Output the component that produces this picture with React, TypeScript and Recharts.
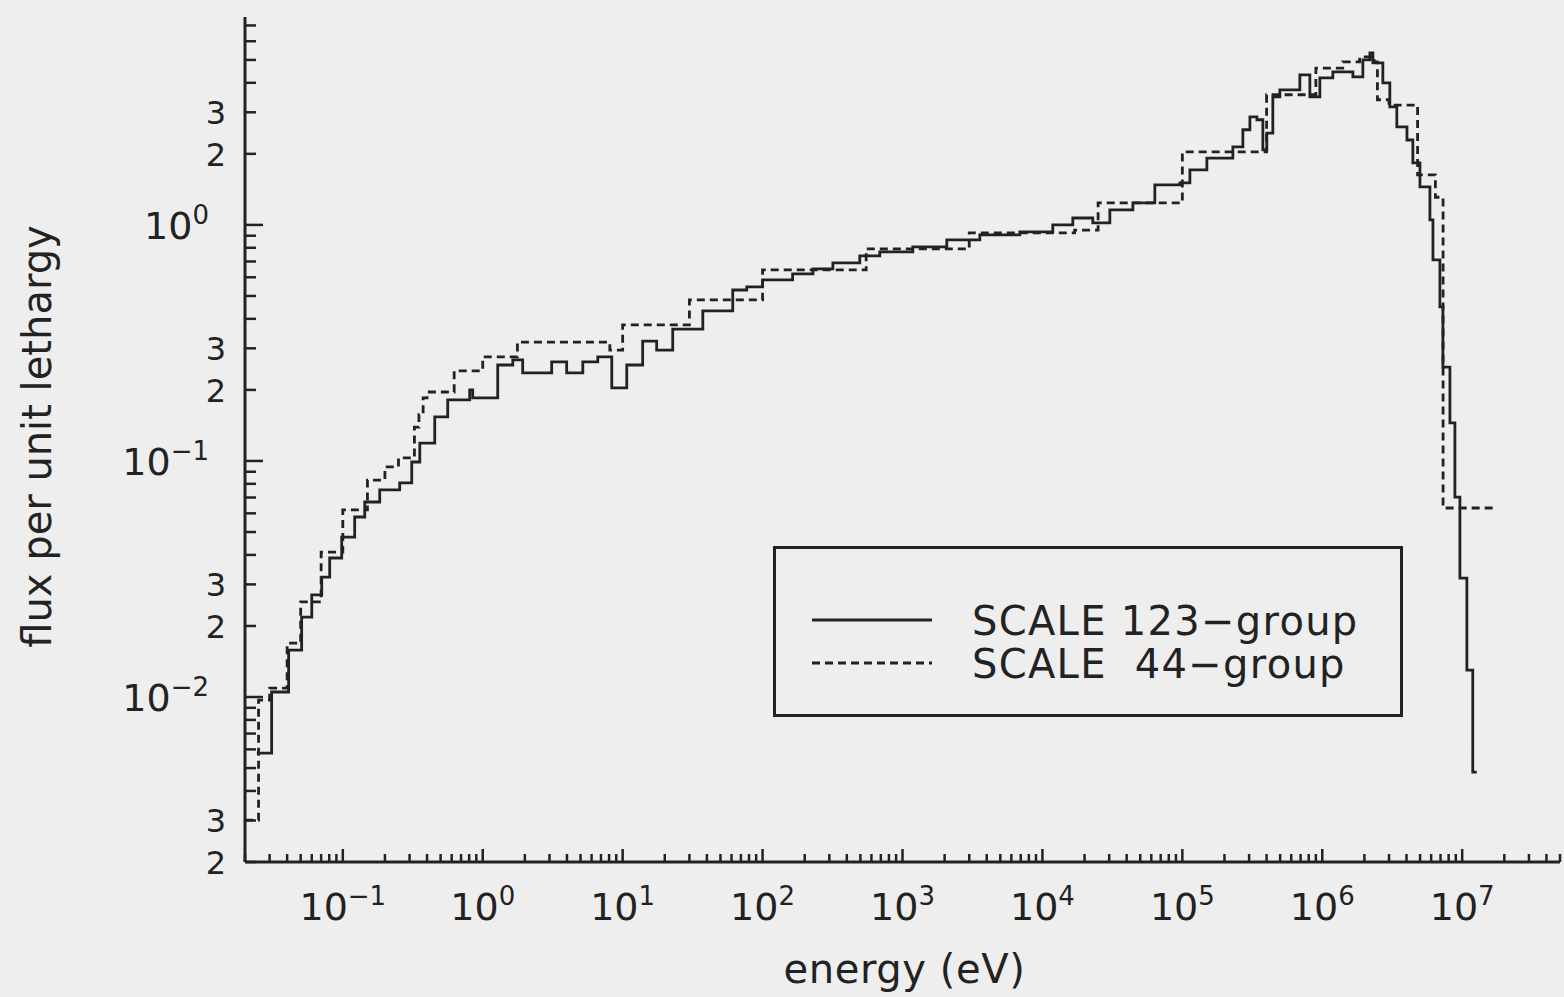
import { LineChart, Line, XAxis, YAxis, Legend } from "recharts";

const INK = "#222222";
const PAPER = "#eeeeee";
const FONT = "'DejaVu Sans', sans-serif";
const DASH = "8 5";

// SCALE 123-group: lower group bounds (eV), last entry is the top of the last group
const fineEnergy = [
  0.0243, 0.031, 0.041, 0.0508, 0.06, 0.0707, 0.0806, 0.0982, 0.1216, 0.1435,
  0.1836, 0.255, 0.311, 0.355, 0.454, 0.562, 0.807, 0.848, 1.28, 1.64, 1.93,
  3.11, 3.98, 5.19, 6.64, 8.36, 10.7, 13.9, 17.5, 22.8, 37.4, 61.2, 77.1, 100,
  164, 229, 318, 495, 688, 1185, 2073, 3570, 6890, 11860, 16490, 22910, 30330,
  44290, 63590, 96000, 113200, 149700, 229600, 270700, 303900, 341300, 376200,
  401500, 443300, 497600, 691500, 815400, 961200, 1.19e6, 1.655e6, 1.95e6,
  2.19e6, 2.3e6, 2.71e6, 3.04e6, 3.41e6, 4.03e6, 4.44e6, 4.99e6, 5.88e6,
  6.18e6, 6.93e6, 7.28e6, 8.17e6, 8.87e6, 9.63e6, 1.08e7, 1.19e7, 1.27e7,
];
const fineFlux = [
  0.00579, 0.0105, 0.0158, 0.0218, 0.0271, 0.0322, 0.0388, 0.0476, 0.0579,
  0.067, 0.0754, 0.0807, 0.099, 0.119, 0.1536, 0.1813, 0.2, 0.185, 0.255, 0.268,
  0.236, 0.263, 0.236, 0.263, 0.276, 0.204, 0.255, 0.322, 0.295, 0.362, 0.432,
  0.53, 0.546, 0.585, 0.62, 0.651, 0.69, 0.739, 0.768, 0.807, 0.864, 0.907,
  0.934, 1.0, 1.07, 1.02, 1.158, 1.24, 1.477, 1.506, 1.71, 1.92, 2.14, 2.53,
  2.87, 2.79, 2.08, 2.45, 3.49, 3.73, 4.32, 3.49, 4.2, 4.45, 4.24, 5.0, 5.35,
  4.86, 4.0, 3.16, 2.6, 2.29, 1.83, 1.45, 1.05, 0.711, 0.45, 0.25, 0.145,
  0.0703, 0.0319, 0.013, 0.00481,
];

// SCALE 44-group boundaries (eV) and flux
const coarseEnergy = [
  0.02, 0.025, 0.03, 0.04, 0.05, 0.07, 0.1, 0.15, 0.2, 0.25, 0.325, 0.35,
  0.375, 0.4, 0.625, 1.0, 1.77, 3.0, 4.75, 6.0, 8.1, 10, 30, 100, 550, 3000,
  17000, 25000, 1e5, 4e5, 9e5, 1.4e6, 1.85e6, 2.354e6, 2.479e6, 3e6, 4.8e6,
  6.434e6, 7.3e6, 1.72e7,
];
const coarseFlux = [
  0.00301, 0.0097, 0.0109, 0.0169, 0.0253, 0.0411, 0.062, 0.083, 0.0944, 0.103,
  0.139, 0.157, 0.185, 0.196, 0.241, 0.276, 0.319, 0.319, 0.319, 0.319, 0.295,
  0.377, 0.481, 0.645, 0.791, 0.925, 0.95, 1.24, 2.04, 3.56, 4.62, 4.91, 5.15,
  4.91, 3.39, 3.22, 1.63, 1.31, 0.0632,
];

const seriesLabels = ["SCALE 123−group", "SCALE  44−group"];

const xDomain = [0.02, 5e7];
const yDomain = [0.002, 7.6];
const xDecades = [-2, -1, 0, 1, 2, 3, 4, 5, 6, 7];
const yDecades = [-3, -2, -1, 0];
const mantissas = [1, 2, 3, 4, 5, 6, 7, 8, 9];
const xLabelled = [-1, 0, 1, 2, 3, 4, 5, 6, 7];
const yPowerLabelled = [-2, -1, 0];
const yDigitLabelled = [2, 3];

const inDomain = (v: number, d: number[]) => v >= d[0] * 0.999 && v <= d[1] * 1.001;
const xTicks = xDecades.flatMap((d) => mantissas.map((m) => m * 10 ** d)).filter((v) => inDomain(v, xDomain));
const yTicks = yDecades.flatMap((d) => mantissas.map((m) => m * 10 ** d)).filter((v) => inDomain(v, yDomain));

const toSteps = (energy: number[], flux: number[]) =>
  energy.map((e, i) => ({ energy: e, flux: flux[Math.min(i, flux.length - 1)] }));

const fineData = toSteps(fineEnergy, fineFlux);
const coarseData = toSteps(coarseEnergy, coarseFlux);

const split = (v: number) => {
  const exp = Math.floor(Math.log10(v) + 1e-9);
  return { exp, mant: Math.round(v / 10 ** exp) };
};
const expText = (e: number) => (e < 0 ? `−${-e}` : `${e}`);

const renderXTick = (props: any) => {
  const { x, y, payload } = props;
  const { exp, mant } = split(payload.value);
  const major = mant === 1;
  return (
    <g>
      <line x1={x} x2={x} y1={y} y2={y - (major ? 13 : 8)} stroke={INK} strokeWidth={2.5} />
      {major && xLabelled.includes(exp) && (
        <text x={x} y={y + 58} textAnchor="middle" fill={INK} fontFamily={FONT} fontSize={38}>
          10
          <tspan dy={-15} fontSize={26}>
            {expText(exp)}
          </tspan>
        </text>
      )}
    </g>
  );
};

const renderYTick = (props: any) => {
  const { x, y, payload } = props;
  const { exp, mant } = split(payload.value);
  const major = mant === 1;
  return (
    <g>
      <line x1={x} x2={x + (major ? 18 : 11)} y1={y} y2={y} stroke={INK} strokeWidth={2.5} />
      {major && yPowerLabelled.includes(exp) && (
        <text x={x - 36} y={y + 14} textAnchor="end" fill={INK} fontFamily={FONT} fontSize={38}>
          10
          <tspan dy={-15} fontSize={26}>
            {expText(exp)}
          </tspan>
        </text>
      )}
      {!major && yDigitLabelled.includes(mant) && (
        <text x={x - 19} y={y + 12} textAnchor="end" fill={INK} fontFamily={FONT} fontSize={32}>
          {mant}
        </text>
      )}
    </g>
  );
};

const XTitle = ({ viewBox }: any) => (
  <text
    x={viewBox.x + viewBox.width / 2 + 2}
    y={viewBox.y + 121}
    textAnchor="middle"
    fill={INK}
    fontFamily={FONT}
    fontSize={40}
    letterSpacing={0.6}
  >
    energy (eV)
  </text>
);

const YTitle = ({ viewBox }: any) => {
  const cx = viewBox.x + 32;
  const cy = viewBox.y + viewBox.height / 2 - 3;
  return (
    <text
      x={cx}
      y={cy}
      transform={`rotate(-90, ${cx}, ${cy})`}
      textAnchor="middle"
      dominantBaseline="central"
      fill={INK}
      fontFamily={FONT}
      fontSize={40}
    >
      flux per unit lethargy
    </text>
  );
};

const LegendBox = () => (
  <svg width={630} height={171} style={{ display: "block" }}>
    <rect x={1.5} y={1.5} width={627} height={168} fill="none" stroke={INK} strokeWidth={3} />
    {seriesLabels.map((label, i) => {
      const cy = 74 + i * 43;
      return (
        <g key={label}>
          <line
            x1={39}
            x2={159}
            y1={cy}
            y2={cy}
            stroke={INK}
            strokeWidth={2.8}
            strokeDasharray={i === 1 ? DASH : undefined}
          />
          <text
            x={199}
            y={cy + 15}
            fill={INK}
            fontFamily={FONT}
            fontSize={40}
            letterSpacing={1.3}
            style={{ whiteSpace: "pre" }}
          >
            {label}
          </text>
        </g>
      );
    })}
  </svg>
);

export default function App() {
  return (
    <div style={{ position: "absolute", left: 0, top: 0, width: 1564, height: 997, background: PAPER }}>
      <LineChart width={1564} height={997} margin={{ top: 17, right: 4, bottom: 0, left: 5 }}>
        <XAxis
          dataKey="energy"
          type="number"
          scale="log"
          domain={xDomain}
          allowDataOverflow
          ticks={xTicks}
          interval={0}
          tickSize={0}
          tickMargin={0}
          tickLine={false}
          tick={renderXTick}
          axisLine={{ stroke: INK, strokeWidth: 3 }}
          height={135}
          label={<XTitle />}
        />
        <YAxis
          type="number"
          scale="log"
          domain={yDomain}
          allowDataOverflow
          ticks={yTicks}
          interval={0}
          tickSize={0}
          tickMargin={0}
          tickLine={false}
          tick={renderYTick}
          axisLine={{ stroke: INK, strokeWidth: 3 }}
          width={240}
          label={<YTitle />}
        />
        <Legend
          layout="vertical"
          align="center"
          verticalAlign="middle"
          content={LegendBox}
          wrapperStyle={{ left: 773, top: 546, width: 630, height: 171 }}
        />
        <Line
          data={fineData}
          dataKey="flux"
          name="SCALE 123-group"
          type="stepAfter"
          stroke={INK}
          strokeWidth={2.8}
          dot={false}
          isAnimationActive={false}
        />
        <Line
          data={coarseData}
          dataKey="flux"
          name="SCALE 44-group"
          type="stepAfter"
          stroke={INK}
          strokeWidth={2.8}
          strokeDasharray={DASH}
          dot={false}
          isAnimationActive={false}
        />
      </LineChart>
    </div>
  );
}
